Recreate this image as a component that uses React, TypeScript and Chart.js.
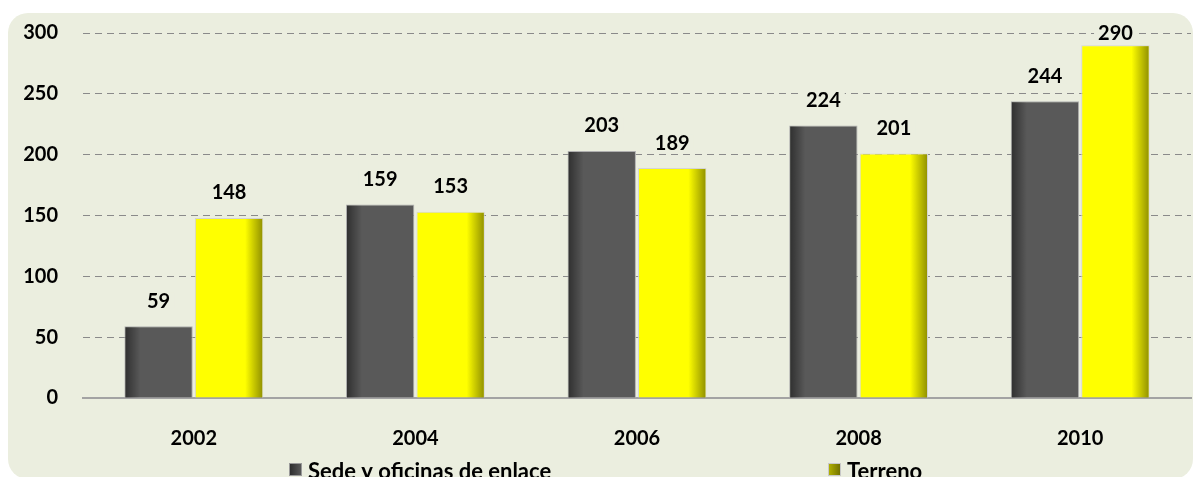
import { useEffect, useRef } from "react";
import { Chart, registerables } from "chart.js";

Chart.register(...registerables);

const categories = ["2002", "2004", "2006", "2008", "2010"];
const sedeValues = [59, 159, 203, 224, 244];
const terrenoValues = [148, 153, 189, 201, 290];
const yTicks = [0, 50, 100, 150, 200, 250, 300];
const seriesNames = ["Sede y oficinas de enlace", "Terreno"];

const FONT_FAMILY = "Lato, 'Liberation Sans', sans-serif";
const BG = "#ebeedf";

const barShadePlugin = {
  id: "barShade",
  afterDatasetsDraw(chart: any) {
    const ctx = chart.ctx;
    chart.data.datasets.forEach((ds: any, di: number) => {
      const meta = chart.getDatasetMeta(di);
      meta.data.forEach((el: any) => {
        const { x, y, base, width } = el.getProps(["x", "y", "base", "width"], true);
        const left = x - width / 2 + 1;
        const right = x + width / 2 - 1;
        const top = Math.min(y, base) + 1;
        const bottom = Math.max(y, base);
        ctx.save();
        if (di === 0) {
          const w = width * 0.22;
          const g = ctx.createLinearGradient(left, 0, left + w, 0);
          g.addColorStop(0, "rgba(0,0,0,0.45)");
          g.addColorStop(1, "rgba(0,0,0,0)");
          ctx.fillStyle = g;
          ctx.fillRect(left, top, w, bottom - top);
        } else {
          const w = width * 0.25;
          const g = ctx.createLinearGradient(right - w, 0, right, 0);
          g.addColorStop(0, "rgba(60,60,0,0)");
          g.addColorStop(1, "rgba(60,60,0,0.55)");
          ctx.fillStyle = g;
          ctx.fillRect(right - w, top, w, bottom - top);
        }
        ctx.restore();
      });
    });
  },
};

const dataLabelPlugin = {
  id: "dataLabels",
  afterDatasetsDraw(chart: any) {
    const ctx = chart.ctx;
    const area = chart.chartArea;
    ctx.save();
    ctx.font = `bold 20px ${FONT_FAMILY}`;
    ctx.textAlign = "center";
    ctx.textBaseline = "middle";
    chart.data.datasets.forEach((ds: any, di: number) => {
      const meta = chart.getDatasetMeta(di);
      meta.data.forEach((el: any, i: number) => {
        const { x, y } = el.getProps(["x", "y"], true);
        const text = String(ds.data[i]);
        const cy = Math.max(y - 26, area.top);
        const w = ctx.measureText(text).width;
        ctx.fillStyle = BG;
        ctx.fillRect(x - w / 2 - 4, cy - 8, w + 8, 16);
        ctx.fillStyle = "#000";
        ctx.fillText(text, x, cy + 1);
      });
    });
    ctx.restore();
  },
};

const legendPlugin = {
  id: "customLegend",
  afterDraw(chart: any) {
    const ctx = chart.ctx;
    const items = [
      { label: seriesNames[0], x: 281, c0: "#2a2a2a", c1: "#5c5c5c", border: "#9a9a9a" },
      { label: seriesNames[1], x: 820, c0: "#b5b500", c1: "#6e6e00", border: "#c8c8c8" },
    ];
    ctx.save();
    ctx.font = `bold 22px ${FONT_FAMILY}`;
    ctx.textBaseline = "alphabetic";
    ctx.textAlign = "left";
    items.forEach((it) => {
      const by = 450;
      const g = ctx.createLinearGradient(it.x, 0, it.x + 13, 0);
      g.addColorStop(0, it.c0);
      g.addColorStop(1, it.c1);
      ctx.fillStyle = g;
      ctx.fillRect(it.x, by, 13, 13);
      ctx.strokeStyle = it.border;
      ctx.lineWidth = 1;
      ctx.strokeRect(it.x + 0.5, by + 0.5, 12, 12);
      ctx.fillStyle = "#000";
      ctx.fillText(it.label, it.x + 19, 466);
    });
    ctx.restore();
  },
};

export default function App() {
  const canvasRef = useRef<HTMLCanvasElement | null>(null);

  useEffect(() => {
    document.documentElement.style.overflow = "hidden";
    document.body.style.overflow = "hidden";
    const canvas = canvasRef.current;
    if (!canvas) return;
    const font = { family: FONT_FAMILY, size: 20, weight: "bold" as const };
    const chart = new Chart(canvas, {
      type: "bar",
      data: {
        labels: categories,
        datasets: [
          {
            label: seriesNames[0],
            data: sedeValues,
            backgroundColor: "#595959",
            borderColor: "#b0b0b0",
            borderWidth: 1,
            categoryPercentage: 0.636,
            barPercentage: 0.97,
          },
          {
            label: seriesNames[1],
            data: terrenoValues,
            backgroundColor: "#ffff00",
            borderColor: "#d4d4d4",
            borderWidth: 1,
            categoryPercentage: 0.636,
            barPercentage: 0.97,
          },
        ],
      },
      options: {
        animation: false,
        responsive: true,
        maintainAspectRatio: false,
        layout: { padding: { top: 20, right: 2, bottom: 31, left: 0 } },
        plugins: {
          legend: { display: false },
          tooltip: { enabled: false },
        },
        scales: {
          x: {
            grid: { display: false, drawTicks: false },
            border: { display: true, color: "#a3a3a3", width: 2 },
            ticks: { font, color: "#000", padding: 29 },
            afterFit: (s: any) => {
              s.height = 50;
            },
          },
          y: {
            min: 0,
            max: 300,
            afterBuildTicks: (s: any) => {
              s.ticks = yTicks.map((v) => ({ value: v }));
            },
            ticks: { font, color: "#000", padding: 3 },
            grid: {
              drawTicks: true,
              tickLength: 22,
              tickColor: "rgba(0,0,0,0)",
              lineWidth: 1,
              color: (c: any) => (c.tick && c.tick.value === 0 ? "rgba(0,0,0,0)" : "#8a8a8a"),
            },
            border: { display: false, dash: [7, 5] },
            afterFit: (s: any) => {
              s.width = 75;
            },
          },
        },
      },
      plugins: [barShadePlugin, dataLabelPlugin, legendPlugin],
    });
    return () => chart.destroy();
  }, []);

  return (
    <div
      style={{
        position: "fixed",
        left: 8,
        top: 13,
        width: 1185,
        height: 466,
        background: BG,
        borderRadius: 20,
        overflow: "hidden",
      }}
    >
      <div style={{ position: "absolute", left: 0, top: 0, width: 1185, height: 466 }}>
        <canvas ref={canvasRef} />
      </div>
    </div>
  );
}
